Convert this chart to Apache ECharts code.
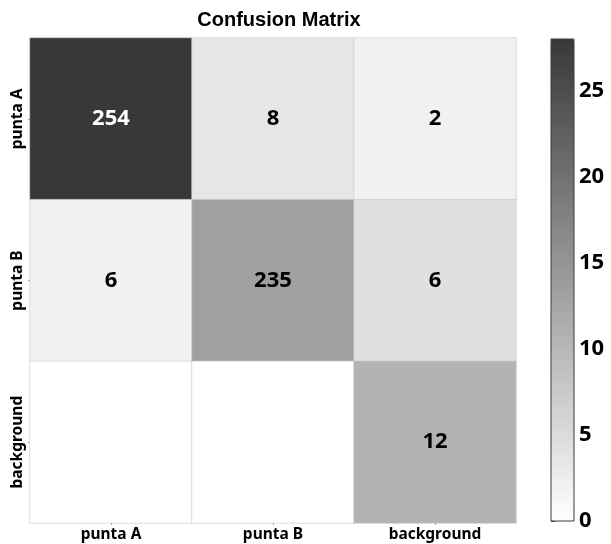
<!DOCTYPE html>
<html>
<head>
<meta charset="utf-8">
<script src="https://cdn.jsdelivr.net/npm/echarts@6/dist/echarts.min.js"></script>
<style>
  html, body { margin: 0; padding: 0; background: #ffffff; }
  #chart { width: 611px; height: 544px; }
</style>
</head>
<body>
<div id="chart"></div>
<script>
// Class names along both axes (rows = true class, columns = predicted)
const classes = ['punta A', 'punta B', 'background'];

// Counts per cell, row by row (0 = empty cell, no label)
const countsRowA = [254, 8, 2];
const countsRowB = [6, 235, 6];
const countsRowBg = [0, 0, 12];

// Shade level of each cell on the 0–28 colour bar
const shadeRowA = [28, 3.5, 2.0];
const shadeRowB = [2.0, 13.4, 4.4];
const shadeRowBg = [0, 0, 10.7];

// Colour bar ticks
const barTicks = [0, 5, 10, 15, 20, 25];
const barMax = 28;

const countRows = [countsRowA, countsRowB, countsRowBg];
const shadeRows = [shadeRowA, shadeRowB, shadeRowBg];

const cells = [];
countRows.forEach((row, r) => {
  row.forEach((v, c) => {
    const d = [c, r, v, shadeRows[r][c]];
    // white text on the darkest cell
    cells.push(d[3] > 20 ? { value: d, label: { color: '#ffffff' } } : d);
  });
});

const font = '"Noto Sans", "DejaVu Sans", sans-serif';

const chart = echarts.init(document.getElementById('chart'));
chart.setOption({
  backgroundColor: '#ffffff',
  animation: false,
  title: {
    text: 'Confusion Matrix',
    left: 274,
    textAlign: 'center',
    top: 5,
    textStyle: { fontFamily: '"Liberation Sans", Arial, sans-serif', fontWeight: 'bold', fontSize: 20, color: '#000' }
  },
  grid: [
    { left: 30, top: 38, width: 486, height: 485 },
    { left: 551, top: 39, width: 23, height: 482, show: true, borderColor: '#3a3a3a', borderWidth: 1, backgroundColor: 'transparent', z: 10 }
  ],
  xAxis: [
    {
      type: 'category', gridIndex: 0, data: classes,
      axisLine: { show: false },
      axisTick: { show: true, length: 2, alignWithLabel: true, lineStyle: { color: '#999' } },
      axisLabel: { fontFamily: font, fontWeight: 'bold', fontSize: 15.5, color: '#000', margin: 4 },
      splitLine: { show: false }
    },
    {
      type: 'value', gridIndex: 1, show: false, min: 0, max: 1
    }
  ],
  yAxis: [
    {
      type: 'category', gridIndex: 0, data: classes, inverse: true,
      axisLine: { show: false },
      axisTick: { show: true, length: 2, alignWithLabel: true, lineStyle: { color: '#999' } },
      axisLabel: { fontFamily: font, fontWeight: 'bold', fontSize: 15.5, color: '#000', rotate: 90, margin: 4 },
      splitLine: { show: false }
    },
    {
      type: 'value', gridIndex: 1, position: 'right', min: 0, max: barMax, interval: 5,
      axisLine: { show: false },
      axisTick: { show: true, length: 4, inside: false, lineStyle: { color: '#333', width: 1 } },
      axisLabel: {
        fontFamily: font, fontWeight: 'bold', fontSize: 22, color: '#000', margin: 5,
        formatter: v => (barTicks.indexOf(v) >= 0 ? String(v) : '')
      },
      splitLine: { show: false }
    }
  ],
  visualMap: {
    type: 'continuous',
    dimension: 3,
    seriesIndex: 0,
    min: 0,
    max: barMax,
    calculable: false,
    showLabel: false,
    text: ['', ''],
    orient: 'vertical',
    left: 551,
    top: 39,
    padding: 0,
    itemWidth: 23,
    itemHeight: 482,
    inRange: { color: ['#ffffff', '#383838'] }
  },
  series: [
    {
      type: 'heatmap',
      xAxisIndex: 0,
      yAxisIndex: 0,
      data: cells,
      encode: { x: 0, y: 1, value: 2 },
      itemStyle: { borderColor: '#c8c8c8', borderWidth: 0.6 },
      label: {
        show: true,
        fontFamily: font,
        fontWeight: 'bold',
        fontSize: 22,
        formatter: p => (p.value[2] === 0 ? '' : String(p.value[2])),
        color: '#000'
      },
      emphasis: { disabled: true }
    }
  ]
});
</script>
</body>
</html>
